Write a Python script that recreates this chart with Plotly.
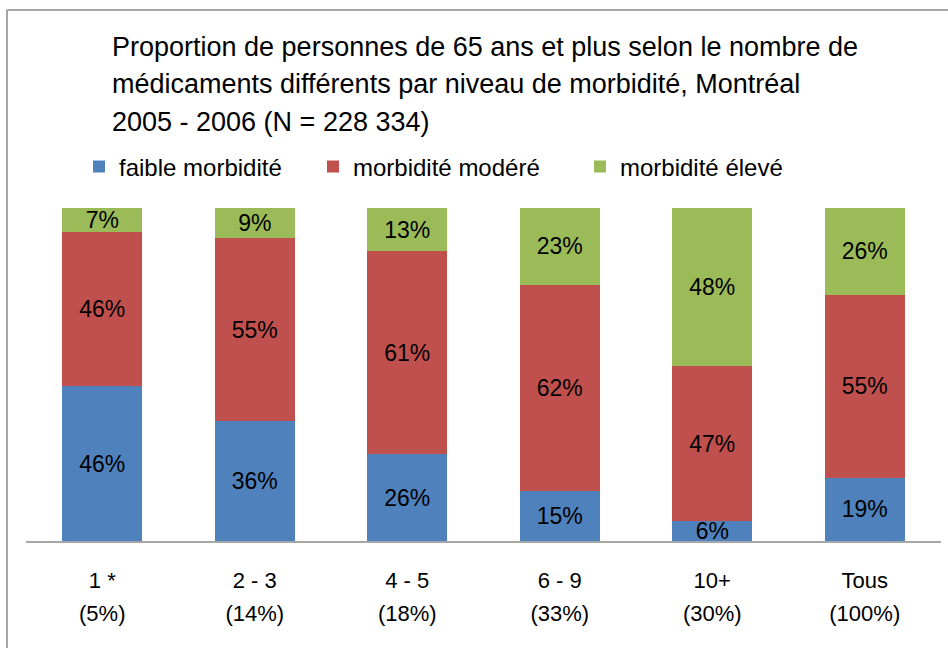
import plotly.graph_objects as go

categories = ["1 *", "2 - 3", "4 - 5", "6 - 9", "10+", "Tous"]
shares = ["(5%)", "(14%)", "(18%)", "(33%)", "(30%)", "(100%)"]
faible = [46, 36, 26, 15, 6, 19]
modere = [46, 55, 61, 62, 47, 55]
eleve = [7, 9, 13, 23, 48, 26]
series_names = ["faible morbidité", "morbidité modéré", "morbidité élevé"]
colors = ["#4F81BD", "#C0504D", "#9BBB59"]
title_lines = [
    "Proportion de personnes de 65 ans et plus selon le nombre de",
    "médicaments différents par niveau de morbidité, Montréal",
    "2005 - 2006 (N = 228 334)",
]

W, H = 948, 648
L, R, T, B = 26, 7, 208, 107
PW, PH = W - L - R, H - T - B
FONT = "Liberation Sans, Arial, sans-serif"


def px_x(x):
    return (x - L) / PW


def px_y(y):
    return (H - B - y) / PH


pos = list(range(len(categories)))
legends = ["legend", "legend2", "legend3"]
fig = go.Figure()
for name, vals, col, lg in zip(series_names, [faible, modere, eleve], colors, legends):
    fig.add_trace(go.Bar(
        x=pos, y=vals, name=name, legend=lg,
        marker=dict(color=col, line_width=0),
        text=[f"{v}%" for v in vals],
        textposition="inside", insidetextanchor="middle",
        textfont=dict(color="black", size=23, family=FONT),
        width=0.525, hoverinfo="name+y",
    ))

# invisible carrier so the second row of category labels (shares) is drawn
fig.add_trace(go.Scatter(x=pos, y=[0] * len(pos), xaxis="x2", yaxis="y",
                         mode="markers", marker=dict(opacity=0),
                         showlegend=False, hoverinfo="skip"))

leg_common = dict(orientation="h", xref="container", yref="container",
                  xanchor="left", yanchor="middle", y=1 - 167 / H,
                  font=dict(size=24, family=FONT, color="black"),
                  bgcolor="rgba(0,0,0,0)")
tickfont = dict(size=22, family=FONT, color="black")
fig.update_layout(
    width=W, height=H,
    margin=dict(l=L, r=R, t=T, b=B, pad=0),
    paper_bgcolor="white", plot_bgcolor="white",
    barmode="stack", barnorm="percent",
    bargap=0.475,
    uniformtext=dict(minsize=23, mode="show"),
    font=dict(family=FONT, color="black"),
    legend=dict(x=79 / W, **leg_common),
    legend2=dict(x=313 / W, **leg_common),
    legend3=dict(x=580 / W, **leg_common),
    yaxis=dict(range=[0, 100], visible=False, fixedrange=True),
    xaxis=dict(range=[-0.5, len(categories) - 0.5], tickmode="array",
               tickvals=pos, ticktext=categories, showline=True,
               linecolor="#A6A6A6", linewidth=2, ticks="", showgrid=False,
               zeroline=False, ticklabelstandoff=19, tickfont=tickfont),
    xaxis2=dict(range=[-0.5, len(categories) - 0.5], overlaying="x",
                anchor="y", side="bottom", tickmode="array",
                tickvals=pos, ticktext=shares, showline=False, ticks="",
                showgrid=False, zeroline=False, ticklabelstandoff=57,
                tickfont=tickfont),
    showlegend=True,
)

title_y = [47, 84, 122]
for line, yc in zip(title_lines, title_y):
    fig.add_annotation(text=line, xref="paper", yref="paper",
                       x=px_x(110), y=px_y(yc), xanchor="left", yanchor="middle",
                       showarrow=False,
                       font=dict(size=27, family=FONT, color="black"))

# chart border (left and top edges visible)
fig.add_shape(type="line", xref="paper", yref="paper",
              x0=px_x(7), x1=px_x(7), y0=px_y(10), y1=px_y(H + 5),
              line=dict(color="#A6A6A6", width=2))
fig.add_shape(type="line", xref="paper", yref="paper",
              x0=px_x(7), x1=px_x(W + 5), y0=px_y(10), y1=px_y(10),
              line=dict(color="#A6A6A6", width=2))

fig.write_html("out.html", config={"displayModeBar": False},
               post_script="document.body.style.margin='0';document.body.style.overflow='hidden';")
